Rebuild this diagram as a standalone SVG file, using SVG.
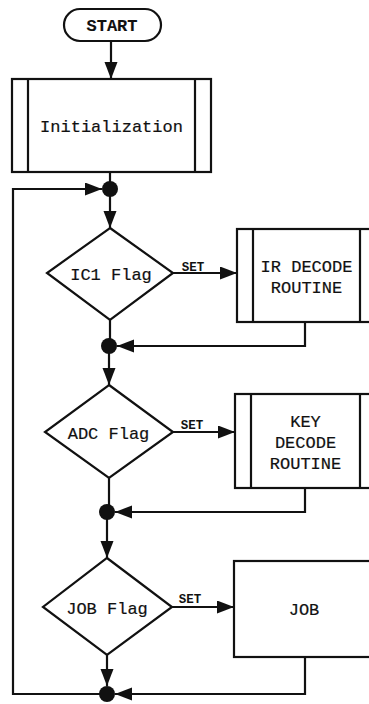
<svg xmlns="http://www.w3.org/2000/svg" width="369" height="704" viewBox="0 0 369 704">
<defs>
<marker id="ah" markerUnits="userSpaceOnUse" markerWidth="18" markerHeight="14" refX="17" refY="6.5" orient="auto">
<path d="M0,0 L17,6.5 L0,13 z" fill="#111"/>
</marker>
<style>
.s{fill:#fff;stroke:#111;stroke-width:2.2}
.l{fill:none;stroke:#111;stroke-width:2.2}
.a{fill:none;stroke:#111;stroke-width:2.2;marker-end:url(#ah)}
.t{font-family:"Liberation Mono","Courier New",monospace;font-size:17px;fill:#111;stroke:#111;stroke-width:0.2;text-anchor:middle}
.b{font-weight:bold;stroke-width:0.1}
.set{font-family:"Liberation Mono","Courier New",monospace;font-size:12.5px;font-weight:bold;fill:#111;text-anchor:middle}
.d{fill:#111}
</style>
</defs>
<rect width="369" height="704" fill="#fff"/>
<g id="connectors">
<path class="a" d="M111,41 V79"/>
<path class="l" d="M110,172 V189"/>
<path class="a" d="M110,189 V228"/>
<path class="l" d="M110,320 V346"/>
<path class="a" d="M109,346 V385"/>
<path class="l" d="M109,478 V512"/>
<path class="a" d="M107,512 V558"/>
<path class="a" d="M107,655 V686"/>
<path class="a" d="M173,273 H237"/>
<path class="a" d="M173,432 H235"/>
<path class="a" d="M172,607 H234"/>
<path class="a" d="M305,322 V346 H117"/>
<path class="a" d="M305,488 V512 H115"/>
<path class="a" d="M305,657 V694 H115"/>
<path class="a" d="M107,694 H13 V189 H102"/>
<text class="set" x="193" y="271">SET</text>
<text class="set" x="192" y="429">SET</text>
<text class="set" x="190" y="603">SET</text>
</g>
<g id="start">
<rect class="s" x="64" y="9" width="97" height="32" rx="16"/>
<text class="t b" x="112" y="31">START</text>
</g>
<g id="init">
<rect class="s" x="12" y="79" width="199" height="93"/>
<path class="l" d="M28,79 V172 M195,79 V172"/>
<text class="t" x="111.5" y="132">Initialization</text>
</g>
<g id="dot1"><circle class="d" cx="110" cy="189" r="8"/></g>
<g id="ic1">
<path class="s" d="M110,228 L173,273 L110,320 L47,273 z"/>
<text class="t" x="111" y="280">IC1 Flag</text>
</g>
<g id="ir">
<rect class="s" x="237" y="229" width="140" height="93"/>
<path class="l" d="M253,229 V322 M360,229 V322"/>
<text class="t" x="306.5" y="272">IR DECODE</text>
<text class="t" x="306.5" y="293">ROUTINE</text>
</g>
<g id="dot2"><circle class="d" cx="109" cy="346" r="8"/></g>
<g id="adc">
<path class="s" d="M109,385 L173,432 L109,478 L45,432 z"/>
<text class="t" x="108.5" y="439">ADC Flag</text>
</g>
<g id="key">
<rect class="s" x="235" y="394" width="142" height="94"/>
<path class="l" d="M251,394 V488 M360,394 V488"/>
<text class="t" x="305.5" y="427">KEY</text>
<text class="t" x="305.5" y="448">DECODE</text>
<text class="t" x="305.5" y="469">ROUTINE</text>
</g>
<g id="dot3"><circle class="d" cx="107" cy="512" r="8"/></g>
<g id="jobflag">
<path class="s" d="M107,558 L172,607 L107,655 L43,607 z"/>
<text class="t" x="107" y="614">JOB Flag</text>
</g>
<g id="job">
<rect class="s" x="234" y="561" width="143" height="96"/>
<text class="t" x="304" y="615">JOB</text>
</g>
<g id="dot4"><circle class="d" cx="107" cy="694" r="8"/></g>
</svg>
